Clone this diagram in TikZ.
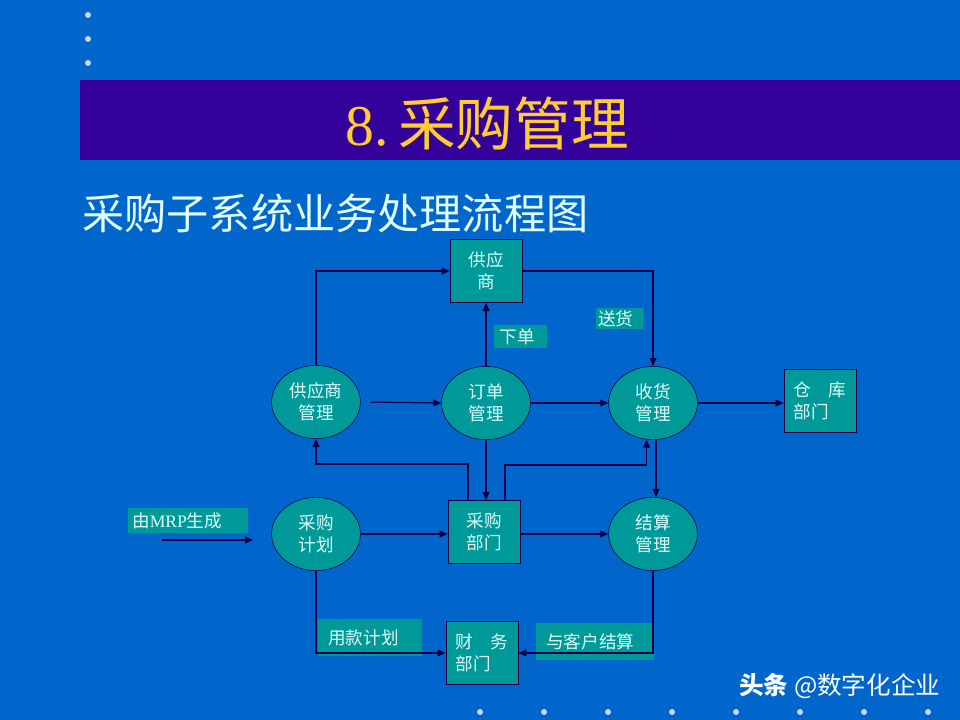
\documentclass[tikz,border=0pt]{standalone}
\usepackage{fontspec}
\setmainfont{Liberation Serif}
\newfontfamily\cjk{Noto Sans CJK SC}
\usepackage{tikz}
\usetikzlibrary{arrows.meta,positioning,shapes.geometric,calc}
\definecolor{slidebg}{RGB}{0,102,204}
\definecolor{titlebar}{RGB}{51,0,153}
\definecolor{titlegold}{RGB}{255,204,51}
\definecolor{procfill}{RGB}{0,153,153}
\definecolor{procline}{RGB}{0,0,70}
\definecolor{paletext}{RGB}{225,255,255}
\definecolor{dotgrey}{RGB}{205,215,235}

\begin{document}
\begin{tikzpicture}[
x=0.025cm,
y=-0.025cm,
every node/.style={font=\cjk\fontsize{12.5}{15.5}\selectfont,text=paletext},
proc/.style={ellipse,draw=procline,fill=procfill,align=center,inner sep=0pt,minimum width=2.22cm,minimum height=1.83cm},
unit/.style={rectangle,draw=procline,fill=procfill,align=center,inner sep=0pt,minimum width=1.8cm,minimum height=1.575cm},
tag/.style={rectangle,fill=procfill,anchor=north west,align=left,inner xsep=0.13cm,inner ysep=0pt},
arr/.style={-{Triangle[length=2mm,width=1.7mm]},draw=procline,line width=0.9pt},
dot/.style={fill=dotgrey,draw=none}
]
% slide background
\fill[slidebg] (0,0) rectangle (960,720);
\useasboundingbox (0,0) rectangle (960,720);
\foreach \y in {15,39,63} \fill[dot] (88,\y) circle (3);
\foreach \x in {480,544,608,672,736,800,864,928} \fill[dot] (\x,712) circle (3);
\fill[titlebar] (80,80) rectangle (960,160);
\node[text=titlegold,font=\cjk\fontsize{41}{48}\selectfont] (title) at (487,124) {{\rmfamily 8.}\,采购管理};
\node[anchor=west,inner sep=0pt,font=\cjk\fontsize{30}{36}\selectfont] (subtitle) at (82,213) {采购子系统业务处理流程图};

% processes and departments
\node[unit] (supplier) at (486,271) {供应\\商};
\node[proc] (supmgmt) at (316,402) {供应商\\管理};
\node[proc] (order) at (486,403) {订单\\管理};
\node[proc] (receive) at (653,403) {收货\\管理};
\node[unit,align=left] (warehouse) at (820,401) {仓\quad 库\\部门};
\node[proc] (plan) at (316,534) {采购\\计划};
\node[unit] (purchase) at (484,532) {采购\\部门};
\node[proc] (settle) at (653,534) {结算\\管理};
\node[unit,align=left] (finance) at (482,653) {财\quad 务\\部门};

% flow labels
\node[tag,text width=1.05cm,minimum height=0.575cm] (tagorder) at (494,325) {下单};
\node[tag,text width=1.07cm,minimum height=0.525cm,inner xsep=0.05cm] (tagship) at (596,308) {送货};
\node[tag,text width=2.78cm,minimum height=0.625cm,inner xsep=0.1cm] (tagmrp) at (128,508) {由{\rmfamily MRP}生成};
\node[tag,text width=2.1cm,minimum height=0.925cm,inner xsep=0.25cm] (tagpay) at (318,619) {用款计划};
\node[tag,text width=2.43cm,minimum height=0.925cm,inner xsep=0.25cm] (tagcust) at (536,623) {与客户结算};
\coordinate (mrpstart) at (162,540);
\coordinate (mrpend) at (253,540);

% connectors
\draw[arr] (supmgmt.north) |- (supplier.west);
\draw[arr] (order.north) -- (supplier.south);
\draw[arr] (supplier.east) -| (receive.north);
\draw[arr,shorten <=7] (supmgmt.east) -- (order.west);
\draw[arr] (order.east) -- (receive.west);
\draw[arr] (receive.east) -- (warehouse.west |- receive.east);
\draw[arr] (order.south) -- (order.south |- purchase.north);
\draw[arr] ([xshift=-0.4cm]purchase.north) |- (supmgmt.south |- 0,464) -- (supmgmt.south);
\draw[arr] ([xshift=0.525cm]purchase.north) |- (receive.260 |- 0,465) -- (receive.260);
\draw[arr] ([xshift=0.075cm]receive.south) -- ([xshift=0.075cm]settle.north);
\draw[arr] (mrpstart) -- (mrpend);
\draw[arr] (plan.east) -- (purchase.west |- plan.east);
\draw[arr] (purchase.east |- settle.west) -- (settle.west);
\draw[arr] (plan.south) |- (finance.west);
\draw[arr] (settle.south) |- (finance.east);

% watermark
\node[anchor=west,inner sep=0pt,text=white,font=\cjk\fontsize{17.5}{20}\selectfont] (mark) at (739,686) {\textbf{头条} @数字化企业};
\end{tikzpicture}
\end{document}
